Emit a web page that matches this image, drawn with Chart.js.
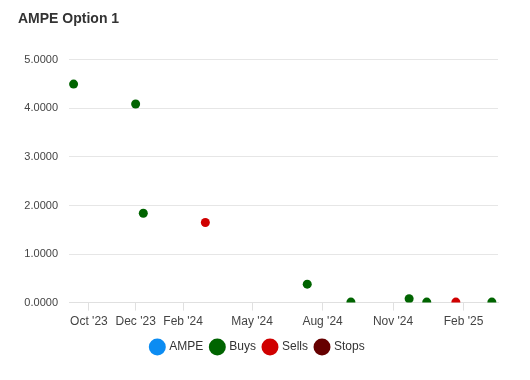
<!DOCTYPE html>
<html>
<head>
  <meta charset="utf-8" />
  <title>AMPE Option 1</title>
  <script src="https://cdn.jsdelivr.net/npm/chart.js"></script>
  <style>
    body { margin: 0; background: #fff; }
    #wrap { width: 530px; height: 380px; }
  </style>
</head>
<body>
  <div id="wrap"><canvas id="chart"></canvas></div>
  <script>
    // dates as [year, month(1-12), day]
    var buyDates = [[2023, 9, 11], [2023, 12, 1], [2023, 12, 11], [2024, 7, 12], [2024, 9, 7], [2024, 11, 22], [2024, 12, 15], [2025, 3, 10]];
    var buyValues = [4.50, 4.09, 1.84, 0.38, 0.01, 0.08, 0.01, 0.01];
    var sellDates = [[2024, 3, 1], [2025, 1, 22]];
    var sellValues = [1.65, 0.01];
    var ampeDates = [];
    var ampeValues = [];
    var stopDates = [];
    var stopValues = [];

    var tickDates = [[2023, 10, 1], [2023, 12, 1], [2024, 2, 1], [2024, 5, 1], [2024, 8, 1], [2024, 11, 1], [2025, 2, 1]];
    var tickLabels = ["Oct '23", "Dec '23", "Feb '24", "May '24", "Aug '24", "Nov '24", "Feb '25"];

    function ts(d) { return Date.UTC(d[0], d[1] - 1, d[2]); }
    function points(dates, values) {
      return dates.map(function (d, i) { return { x: ts(d), y: values[i] }; });
    }
    var tickValues = tickDates.map(ts);
    var clipArea = { left: 6, right: 6, top: 6, bottom: 0 };

    var ctx = document.getElementById('chart').getContext('2d');
    new Chart(ctx, {
      type: 'scatter',
      data: {
        datasets: [
          { label: 'AMPE', data: points(ampeDates, ampeValues), backgroundColor: '#0c8cf2', borderColor: '#0c8cf2', pointRadius: 4.5, borderWidth: 0, clip: clipArea },
          { label: 'Buys', data: points(buyDates, buyValues), backgroundColor: '#006400', borderColor: '#006400', pointRadius: 4.5, borderWidth: 0, clip: clipArea },
          { label: 'Sells', data: points(sellDates, sellValues), backgroundColor: '#d00000', borderColor: '#d00000', pointRadius: 4.5, borderWidth: 0, clip: clipArea },
          { label: 'Stops', data: points(stopDates, stopValues), backgroundColor: '#660000', borderColor: '#660000', pointRadius: 4.5, borderWidth: 0, clip: clipArea }
        ]
      },
      options: {
        responsive: true,
        maintainAspectRatio: false,
        animation: false,
        layout: { padding: { left: 18, right: 32, top: 0, bottom: 17 } },
        plugins: {
          title: {
            display: true,
            text: 'AMPE Option 1',
            align: 'start',
            color: '#333333',
            font: { family: 'Liberation Sans, Arial, sans-serif', size: 14, weight: 'bold' },
            padding: { top: 11, bottom: 32 }
          },
          legend: {
            position: 'bottom',
            labels: {
              usePointStyle: true,
              pointStyle: 'circle',
              boxWidth: 13,
              boxHeight: 13,
              padding: 8,
              color: '#333333',
              font: { family: 'Liberation Sans, Arial, sans-serif', size: 12 }
            }
          },
          tooltip: { enabled: false }
        },
        scales: {
          x: {
            type: 'linear',
            min: ts([2023, 9, 5]),
            max: ts([2025, 3, 18]),
            afterBuildTicks: function (scale) {
              scale.ticks = tickValues.map(function (v) { return { value: v }; });
            },
            ticks: {
              autoSkip: false,
              maxRotation: 0,
              padding: 4,
              color: '#444444',
              font: { family: 'Liberation Sans, Arial, sans-serif', size: 12 },
              callback: function (v) {
                var i = tickValues.indexOf(v);
                return i >= 0 ? tickLabels[i] : '';
              }
            },
            grid: { drawOnChartArea: false, drawTicks: true, tickLength: 8, color: '#e0e0e0' },
            border: { display: true, color: '#e0e0e0', width: 1 }
          },
          y: {
            min: 0,
            max: 5,
            afterFit: function (scale) { scale.width = 51; },
            ticks: {
              stepSize: 1,
              padding: 11,
              color: '#444444',
              font: { family: 'Liberation Sans, Arial, sans-serif', size: 11 },
              callback: function (v) { return v.toFixed(4); }
            },
            grid: { drawTicks: false, color: '#e6e6e6' },
            border: { display: false }
          }
        }
      }
    });
  </script>
</body>
</html>
